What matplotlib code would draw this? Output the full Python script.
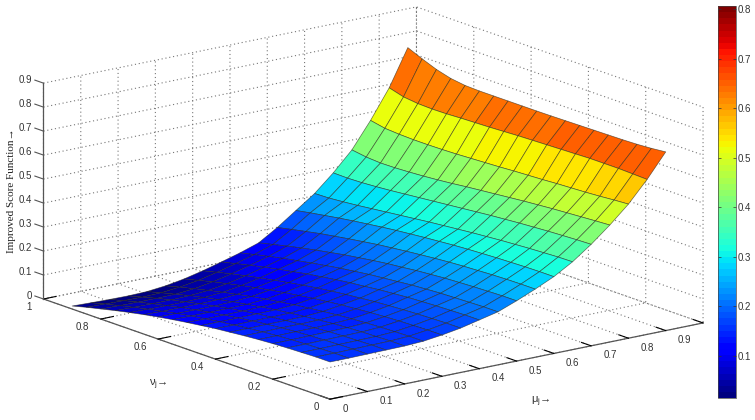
import numpy as np
import matplotlib
matplotlib.use('Agg')
import matplotlib.pyplot as plt
from matplotlib.cm import ScalarMappable
from matplotlib.colors import Normalize
from mpl_toolkits.mplot3d import proj3d

mu_values = [0.05 * i for i in range(19)]
nu_values = [0.05 * i for i in range(19)]

# score, one row per mu, nu going 0 -> 0.9
score = [
    [.155, .155, .153, .151, .148, .144, .139, .133, .127, .119, .111, .102, .092, .081, .069, .056, .042, .028, .0125],
    [.155, .155, .153, .151, .148, .144, .139, .133, .126, .119, .110, .101, .091, .079, .067, .054, .040, .026, .010],
    [.156, .156, .154, .152, .149, .145, .140, .134, .127, .119, .110, .101, .090, .079, .066, .053, .039, .024, .008],
    [.157, .157, .155, .153, .150, .145, .140, .134, .127, .120, .111, .101, .090, .079, .066, .053, .039, .023, .007],
    [.158, .158, .156, .154, .151, .147, .141, .135, .128, .121, .112, .102, .092, .080, .068, .055, .040, .025, .009],
    [.162, .162, .160, .158, .155, .151, .146, .140, .133, .126, .117, .108, .098, .086, .074, .061, .047, .033, .017],
    [.172, .172, .170, .168, .165, .161, .156, .151, .144, .137, .128, .119, .109, .098, .086, .073, .060, .045, .030],
    [.185, .185, .183, .181, .178, .174, .170, .164, .158, .151, .143, .134, .124, .113, .102, .090, .077, .063, .048],
    [.203, .203, .201, .199, .196, .193, .188, .183, .176, .170, .162, .153, .144, .133, .122, .110, .097, .083, .069],
    [.221, .221, .219, .217, .215, .211, .207, .201, .195, .189, .181, .173, .163, .153, .142, .131, .118, .105, .091],
    [.251, .251, .249, .247, .244, .241, .236, .231, .224, .218, .210, .201, .192, .181, .170, .158, .145, .131, .117],
    [.284, .284, .283, .281, .278, .275, .271, .266, .260, .254, .247, .240, .231, .222, .212, .202, .190, .178, .165],
    [.320, .320, .319, .317, .315, .312, .309, .305, .300, .295, .289, .283, .276, .268, .260, .251, .241, .231, .220],
    [.366, .365, .362, .359, .355, .351, .346, .341, .335, .329, .323, .316, .309, .302, .295, .288, .282, .277, .275],
    [.423, .421, .418, .415, .411, .407, .402, .397, .391, .385, .379, .373, .367, .361, .355, .350, .346, .344, .345],
    [.4875, .484, .480, .476, .472, .467, .462, .456, .450, .444, .438, .431, .425, .420, .416, .413, .412, .416, .425],
    [.559, .555, .550, .546, .543, .540, .536, .533, .530, .526, .523, .520, .517, .515, .514, .514, .516, .520, .532],
    [.646, .648, .650, .650, .650, .648, .646, .644, .642, .640, .637, .634, .632, .630, .627, .626, .628, .635, .652],
    [.745, .739, .735, .733, .732, .731, .730, .729, .728, .7275, .7275, .7275, .7275, .7275, .7296, .738, .7546, .778, .804],
]

mu_ticks = [0, .1, .2, .3, .4, .5, .6, .7, .8, .9, 1]
mu_labels = ['0', '0.1', '0.2', '0.3', '0.4', '0.5', '0.6', '0.7', '0.8', '0.9']
nu_ticks = [0, .2, .4, .6, .8, 1]
nu_labels = ['0', '0.2', '0.4', '0.6', '0.8', '1']
z_ticks = [0, .1, .2, .3, .4, .5, .6, .7, .8, .9]
z_labels = ['0', '0.1', '0.2', '0.3', '0.4', '0.5', '0.6', '0.7', '0.8', '0.9']
cbar_ticks = [.1, .2, .3, .4, .5, .6, .7, .8]
cbar_labels = ['0.1', '0.2', '0.3', '0.4', '0.5', '0.6', '0.7', '0.8']

text_color = '#333333'
line_color = '#555555'

plt.rcParams['font.family'] = ['Liberation Sans', 'DejaVu Sans']
plt.rcParams['grid.linestyle'] = (0, (1, 2.5))
plt.rcParams['grid.color'] = '#777777'
plt.rcParams['grid.linewidth'] = 0.8

fig = plt.figure(figsize=(7.55, 4.2), dpi=100)
ax = fig.add_subplot(projection='3d', proj_type='ortho')
ax.set_position([13.8 / 755, -142.5 / 420, 700 / 755, 700 / 420])
ax.view_init(elev=15.5, azim=-127.4)
ax.set_box_aspect((469.5, 471.8, 224), zoom=0.974)

X, Y = np.meshgrid(mu_values, nu_values, indexing='ij')
Z = np.array(score)

cmap = plt.get_cmap('jet', 64)
norm = Normalize(vmin=0.0153, vmax=0.806)
# MATLAB flat shading: facet takes the colour of its first corner
ax.plot_surface(X, Y, Z, rstride=1, cstride=1, facecolors=cmap(norm(Z)), shade=False,
                edgecolor=(0.15, 0.15, 0.1, 0.65), linewidth=0.5, antialiased=True)

ax.set_xticks(mu_ticks, [''] * len(mu_ticks))
ax.set_yticks(nu_ticks, [''] * len(nu_ticks))
ax.set_zticks(z_ticks, [''] * len(z_ticks))

for axis in (ax.xaxis, ax.yaxis, ax.zaxis):
    axis.set_pane_color((1, 1, 1, 0))
    axis.pane.set_edgecolor((1, 1, 1, 0))
    axis.line.set_color(line_color)
    axis.line.set_linewidth(0.9)
    axis._axinfo['tick']['inward_factor'] = 0
    axis._axinfo['tick']['outward_factor'] = 0.42
    axis._axinfo['tick']['linewidth'] = {True: 0.8, False: 0.5}
    axis._axinfo['tick']['color'] = line_color
ax.zaxis._axinfo['tick']['outward_factor'] = 0

for z in z_ticks:
    ax.plot([0, 0], [1, 1.03], [z, z], color=line_color, lw=0.8, clip_on=False)

ax.set_xlim(0, 1)
ax.set_ylim(0, 1)
ax.set_zlim(0, 0.9)


def label_at(x, y, z, s, ha):
    # tick labels placed by hand, the 3d axis can't offset them the way MATLAB does
    px, py, _ = proj3d.proj_transform(x, y, z, ax.get_proj())
    ax.text2D(px, py, s, ha=ha, va='center', fontsize=7, color=text_color, clip_on=False)


for m, lab in zip(mu_ticks, mu_labels):
    label_at(m - 0.026, -0.076, 0, lab, 'left')
for n, lab in zip(nu_ticks, nu_labels):
    label_at(-0.058, n - 0.036, 0, lab, 'right')
for z, lab in zip(z_ticks, z_labels):
    label_at(-0.005, 1.034, z, lab, 'right')

fig.text(16 / 755, 1 - 191 / 420, 'Improved Score Function→', rotation=90, ha='right', va='center',
         fontsize=8, family=['Liberation Serif', 'DejaVu Sans'], color='#222222')
fig.text(158 / 755, 1 - 385 / 420, 'ν$_{\\mathregular{j}}$→', ha='center', va='center', fontsize=8, color=text_color)
fig.text(541 / 755, 1 - 402 / 420, 'μ$_{\\mathregular{j}}$→', ha='center', va='center', fontsize=8, color=text_color)

cax = fig.add_axes([718 / 755, 1 - 398 / 420, 18 / 755, 392 / 420])
cb = fig.colorbar(ScalarMappable(norm=norm, cmap=cmap), cax=cax)
cb.set_ticks(cbar_ticks, labels=cbar_labels)
cb.ax.tick_params(labelsize=7, length=2, width=0.5, direction='in', left=True, right=True, pad=1.5, colors=text_color)
cb.outline.set_linewidth(0.5)
cb.outline.set_edgecolor('#444444')

fig.savefig('out.png', dpi=100)
